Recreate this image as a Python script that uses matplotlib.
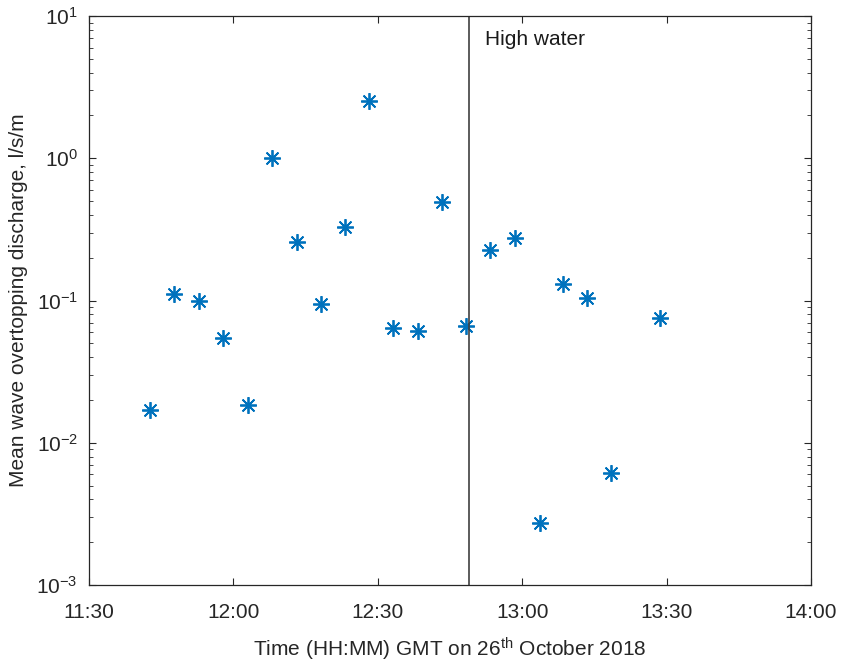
import pandas as pd
import numpy as np
import matplotlib
matplotlib.use("Agg")
import matplotlib.pyplot as plt
import matplotlib.dates as mdates
from matplotlib.ticker import LogLocator

plt.rcParams['font.family'] = 'Liberation Sans'
plt.rcParams['mathtext.fontset'] = 'custom'
plt.rcParams['mathtext.rm'] = 'Liberation Sans'
plt.rcParams['mathtext.it'] = 'Liberation Sans:italic'

# sample times (GMT) and mean overtopping discharge, l/s/m
times = ["11:42:42", "11:47:42", "11:52:54", "11:57:54", "12:03:00", "12:08:00",
         "12:13:12", "12:18:06", "12:23:06", "12:28:06", "12:33:06", "12:38:24",
         "12:43:18", "12:48:18", "12:53:18", "12:58:36", "13:03:36", "13:08:30",
         "13:13:30", "13:18:30", "13:28:42"]
discharge = [0.0170, 0.112, 0.0997, 0.0548, 0.0184, 1.0,
             0.256, 0.094, 0.330, 2.54, 0.0637, 0.0614,
             0.492, 0.066, 0.226, 0.277, 0.00272, 0.130,
             0.1035, 0.0061, 0.0757]
high_water = "12:49:00"
day = "2018-10-26 "

t = pd.to_datetime([day + s for s in times])
hw = pd.to_datetime(day + high_water)

fig = plt.figure(figsize=(8.43, 6.62), dpi=100)
ax = fig.add_axes([0.1056, 0.1163, 0.8565, 0.8595])

ax.plot(t, discharge, linestyle='none', marker=(8, 2, 0), markersize=12,
        markeredgewidth=1.3, color='#0072BD')
ax.axvline(hw, color='#404040', lw=1.2)
ax.annotate('High water', xy=(hw, 1), xycoords=('data', 'axes fraction'),
            xytext=(11, -10), textcoords='offset points', va='top', ha='left',
            fontsize=15, color='#1a1a1a')

ax.set_yscale('log')
ax.set_ylim(1e-3, 1e1)
ax.set_xlim(pd.to_datetime(day + "11:30"), pd.to_datetime(day + "14:00"))
ax.xaxis.set_major_locator(mdates.MinuteLocator(byminute=[0, 30]))
ax.xaxis.set_major_formatter(mdates.DateFormatter('%H:%M'))
ax.yaxis.set_major_locator(LogLocator(base=10, numticks=10))
ax.yaxis.set_minor_locator(LogLocator(base=10, subs=np.arange(2, 10), numticks=20))

ax.tick_params(which='both', direction='in', top=True, right=True,
               labelsize=15, colors='#262626')
ax.tick_params(axis='y', pad=8)
ax.tick_params(axis='x', pad=13)
ax.tick_params(which='major', length=5, width=0.8)
ax.tick_params(which='minor', length=3, width=0.6)
ax.tick_params(axis='x', which='minor', top=False, bottom=False)
for sp in ax.spines.values():
    sp.set_color('#262626')
    sp.set_linewidth(0.9)

ax.set_xlabel('Time (HH:MM) GMT on 26$^{\\mathrm{th}}$ October 2018', fontsize=15,
              color='#262626', labelpad=10)
ax.set_ylabel('Mean wave overtopping discharge, l/s/m', fontsize=15,
              color='#262626', labelpad=6)

fig.savefig('out.png', dpi=100)
